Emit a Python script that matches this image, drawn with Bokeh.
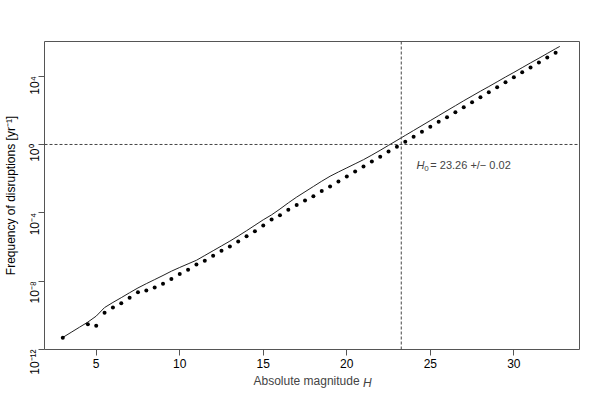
import math
from bokeh.plotting import figure
from bokeh.models import Range1d, FixedTicker, CustomJSTickFormatter, Span, Label
from bokeh.embed import file_html
from bokeh.resources import INLINE

# Observed disruption frequencies: absolute magnitude and log10(frequency [yr^-1])
H_obs = [3.0, 4.5, 5.0, 5.5, 6.0, 6.5, 7.0, 7.5, 8.0, 8.5, 9.0, 9.5, 10.0, 10.5,
         11.0, 11.5, 12.0, 12.5, 13.0, 13.5, 14.0, 14.5, 15.0, 15.5, 16.0, 16.5,
         17.0, 17.5, 18.0, 18.5, 19.0, 19.5, 20.0, 20.5, 21.0, 21.5, 22.0, 22.5,
         23.0, 23.5, 24.0, 24.5, 25.0, 25.5, 26.0, 26.5, 27.0, 27.5, 28.0, 28.5,
         29.0, 29.5, 30.0, 30.5, 31.0, 31.5, 32.0, 32.5]
logF_obs = [-11.32, -10.52, -10.62, -9.85, -9.54, -9.29, -8.98, -8.65, -8.55, -8.37,
            -8.16, -7.87, -7.59, -7.34, -7.03, -6.81, -6.52, -6.22, -5.97, -5.68,
            -5.37, -5.08, -4.74, -4.39, -4.14, -3.82, -3.55, -3.28, -3.03, -2.73,
            -2.46, -2.17, -1.87, -1.58, -1.29, -1.00, -0.72, -0.41, -0.14, 0.16,
            0.45, 0.74, 1.04, 1.33, 1.60, 1.89, 2.18, 2.48, 2.77, 3.06, 3.35, 3.65,
            3.94, 4.23, 4.51, 4.80, 5.09, 5.37]

# Model curve
H_model = [3.0, 3.5, 4.0, 4.5, 5.0, 5.5, 6.0, 6.5, 7.0, 7.5, 8.0, 8.5, 9.0, 9.5,
           10.0, 10.5, 11.0, 11.5, 12.0, 12.5, 13.0, 13.5, 14.0, 14.5, 15.0, 15.5,
           16.0, 16.5, 17.0, 17.5, 18.0, 18.5, 19.0, 19.5, 20.0, 20.5, 21.0, 21.5,
           22.0, 22.5, 23.0, 23.5, 24.0, 24.5, 25.0, 25.5, 26.0, 26.5, 27.0, 27.5,
           28.0, 28.5, 29.0, 29.5, 30.0, 30.5, 31.0, 31.5, 32.0, 32.5, 32.75]
logF_model = [-11.30, -11.00, -10.70, -10.40, -10.05, -9.55, -9.25, -8.97, -8.68, -8.40,
              -8.15, -7.91, -7.67, -7.42, -7.20, -6.99, -6.78, -6.50, -6.22, -5.94,
              -5.66, -5.36, -5.05, -4.73, -4.41, -4.12, -3.78, -3.42, -3.08, -2.77,
              -2.46, -2.15, -1.86, -1.61, -1.37, -1.13, -0.89, -0.62, -0.34, -0.05,
              0.24, 0.53, 0.82, 1.11, 1.40, 1.69, 1.98, 2.27, 2.56, 2.84, 3.12, 3.39,
              3.67, 3.95, 4.22, 4.50, 4.78, 5.05, 5.33, 5.61, 5.74]

H0 = 23.26
H0_err = 0.02
x_ticks = [5, 10, 15, 20, 25, 30]
y_ticks = [1e-12, 1e-8, 1e-4, 1.0, 1e4]

F_obs = [10 ** v for v in logF_obs]
F_model = [10 ** v for v in logF_model]

FONT = "Liberation Sans"
BOX = "#555555"

p = figure(width=600, height=400, output_backend="svg", toolbar_location=None,
           y_axis_type="log",
           x_range=Range1d(1.905, 33.93), y_range=Range1d(10 ** -12.005, 10 ** 6.03),
           min_border_left=41, min_border_right=21, min_border_top=41,
           min_border_bottom=51)
p.background_fill_color = "white"
p.border_fill_color = "white"
p.outline_line_color = BOX
p.outline_line_width = 1
p.xgrid.grid_line_color = None
p.ygrid.grid_line_color = None

p.xaxis.ticker = FixedTicker(ticks=x_ticks)
p.yaxis.ticker = FixedTicker(ticks=y_ticks)
p.yaxis.formatter = CustomJSTickFormatter(code="""
const sup = {'0':'\u2070','1':'\u00b9','2':'\u00b2','3':'\u00b3','4':'\u2074',
             '5':'\u2075','6':'\u2076','7':'\u2077','8':'\u2078','9':'\u2079','-':'\u207b'};
const e = Math.round(Math.log10(tick));
return '10' + String(e).split('').map(c => sup[c]).join('');
""")
for ax in (p.xaxis, p.yaxis):
    ax.axis_line_color = None
    ax.major_tick_line_color = BOX
    ax.major_tick_out = 6
    ax.major_tick_in = 0
    ax.minor_tick_line_color = None
    ax.major_label_text_font = FONT
    ax.major_label_text_font_size = "12px"
    ax.major_label_text_color = "black"
    ax.axis_label_text_font = FONT
    ax.axis_label_text_font_size = "12px"
    ax.axis_label_text_font_style = "normal"
    ax.axis_label_text_color = "black"
p.xaxis.major_label_standoff = 3
p.yaxis.major_label_standoff = 3
p.yaxis.major_label_orientation = math.pi / 2
p.yaxis.axis_label = "Frequency of disruptions [yr\u207b\u00b9]"
p.yaxis.axis_label_standoff = 1

# reference lines
p.add_layout(Span(location=1.0, dimension="width", line_color="#444444",
                  line_width=1, line_dash="3 2"))
p.add_layout(Span(location=H0, dimension="height", line_color="#444444",
                  line_width=1, line_dash="3 2"))

p.line(H_model, F_model, line_color="#222222", line_width=1)
p.scatter(H_obs, F_obs, size=4, color="black", line_color=None)

# annotation H0
yl = 10 ** -1.23
p.add_layout(Label(x=24.17, y=yl, text="H", text_font=FONT, text_font_style="italic",
                   text_font_size="11px", text_baseline="middle", text_align="left"))
p.add_layout(Label(x=24.64, y=10 ** -1.42, text="0", text_font=FONT,
                   text_font_size="8px", text_baseline="middle", text_align="left"))
p.add_layout(Label(x=25.0, y=yl, text="= %.2f +/\u2212 %.2f" % (H0, H0_err),
                   text_font=FONT, text_font_size="11px", text_baseline="middle",
                   text_align="left"))

# x axis title in the panel below the axis
p.add_layout(Label(x=209, y=-3, x_units="screen", y_units="screen",
                   text="Absolute magnitude", text_font=FONT, text_font_size="12px",
                   text_baseline="bottom", text_align="left"), "below")
p.add_layout(Label(x=318.5, y=9, x_units="screen", y_units="screen",
                   text="H", text_font=FONT, text_font_size="12px",
                   text_font_style="italic", text_baseline="bottom", text_align="left"),
             "below")

open("out.html", "w", encoding="utf-8").write(file_html(p, INLINE))
